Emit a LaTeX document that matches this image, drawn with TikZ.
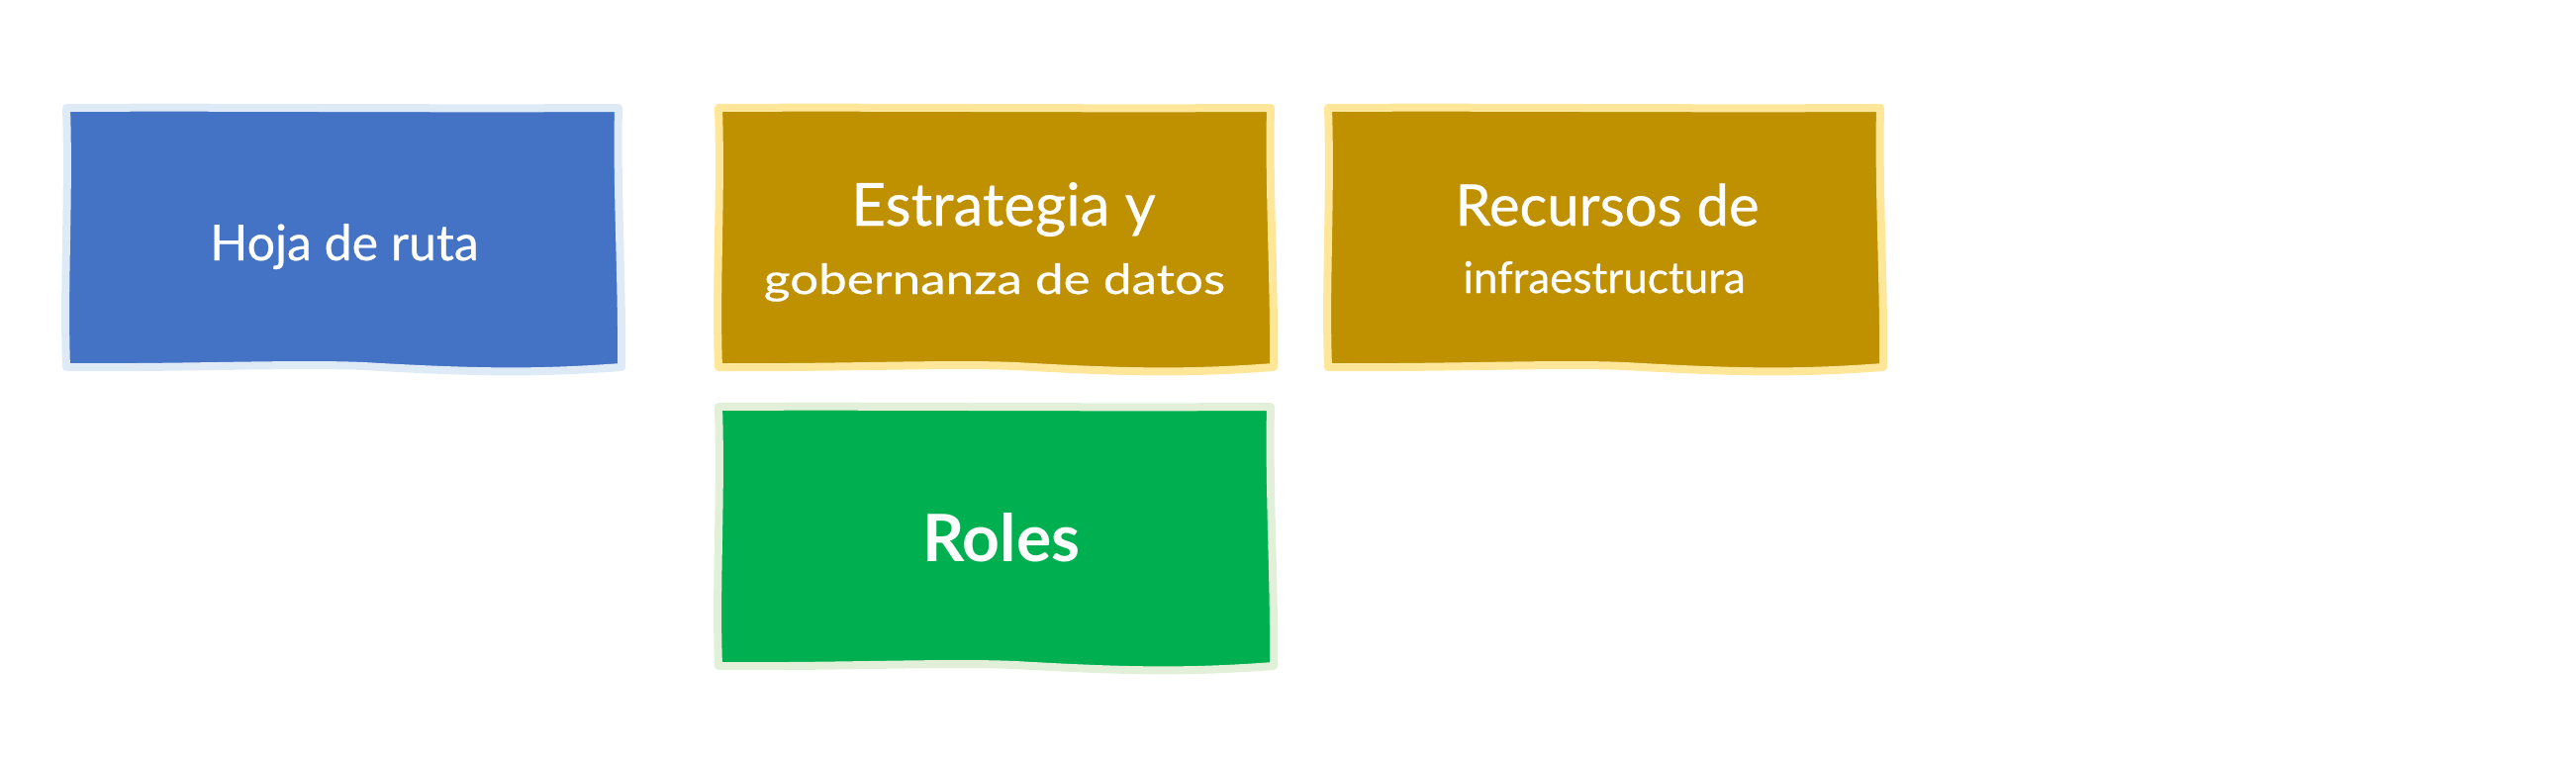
\documentclass[tikz,border=0pt]{standalone}
\usepackage{graphicx}
\usepackage{fontspec}
\setmainfont{Lato}
\newfontface\labelfont{Lato}[FakeBold=0.5]
\definecolor{bluefill}{HTML}{4472C4}
\definecolor{blueedge}{HTML}{DEEBF7}
\definecolor{goldfill}{HTML}{BF9000}
\definecolor{goldedge}{HTML}{FFE699}
\definecolor{greenfill}{HTML}{00B050}
\definecolor{greenedge}{HTML}{E2F0D9}
\tikzset{
  boxlabel/.style={text=white, inner sep=0pt, anchor=base},
  edgeline/.style={line width=4pt, line join=round},
}
\newcommand{\wobblypath}{%
  (0,0) .. controls (150,-1) and (350,1) .. (558,0)
  .. controls (556,80) and (562,180) .. (561,262)
  .. controls (480,268) and (420,268) .. (300,261)
  .. controls (230,258) and (120,263) .. (0,262)
  .. controls (-3,180) and (3,90) .. (0,0) -- cycle}
\newcommand{\wobblybox}[4]{%
  \begin{scope}[shift={(#1,#2)}]
    \fill[#3] \wobblypath;
    \draw[#4, edgeline] \wobblypath;
  \end{scope}}
\begin{document}
\begin{tikzpicture}[x=0.5pt,y=-0.5pt]
  \useasboundingbox (0,0) rectangle (2603,767);
  \wobblybox{67}{109}{bluefill}{blueedge}
  \wobblybox{726}{109}{goldfill}{goldedge}
  \wobblybox{1342}{109}{goldfill}{goldedge}
  \wobblybox{726}{411}{greenfill}{greenedge}
  \node[boxlabel, font=\labelfont\fontsize{25}{30}\selectfont] (hoja) at (348,263) {Hoja de ruta};
  \node[boxlabel, font=\labelfont\fontsize{30}{36}\selectfont] (estrA) at (1014,228) {Estrategia y};
  \node[boxlabel, font=\labelfont\fontsize{21}{25}\selectfont] (estrB) at (1005,297) {\scalebox{1.22}[1]{gobernanza de datos}};
  \node[boxlabel, font=\labelfont\fontsize{29}{34}\selectfont] (recA) at (1624,228) {Recursos de};
  \node[boxlabel, font=\labelfont\fontsize{22}{26}\selectfont] (recB) at (1621,296) {infraestructura};
  \node[boxlabel, font=\bfseries\fontsize{33}{38}\selectfont] (roles) at (1012,567) {Roles};
\end{tikzpicture}
\end{document}
